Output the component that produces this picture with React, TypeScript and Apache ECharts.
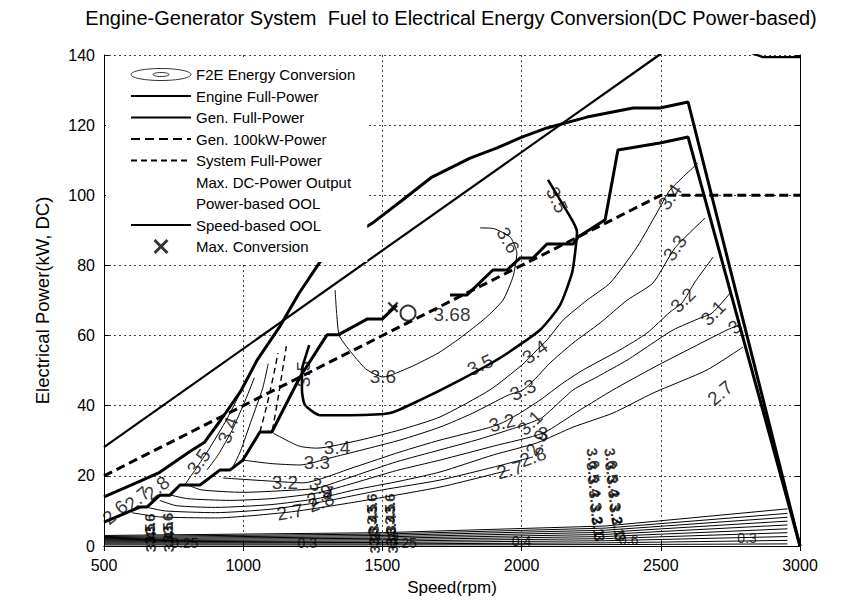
import React, { useEffect, useRef } from "react";
import * as echarts from "echarts";

const FONT = '"Liberation Sans", Arial, Helvetica, sans-serif';

const TITLE = "Engine-Generator System  Fuel to Electrical Energy Conversion(DC Power-based)";
const X_NAME = "Speed(rpm)";
const Y_NAME = "Electrical Power(kW, DC)";

// ---- boundary curves (rpm, kW) ----
const engineFullPower = [
  [500, 14], [630, 18.5], [700, 21], [810, 27], [860, 29.5], [920, 36], [990, 44], [1050, 53],
  [1130, 62.4], [1200, 72], [1276, 81], [1350, 86.5], [1463, 92], [1570, 98.5], [1678, 105.2],
  [1815, 110.6], [1912, 113.5], [2001, 116.6], [2091, 119.2], [2235, 122.3], [2400, 124.9],
  [2497, 124.9], [2598, 126.6], [3000, 0],
];
const genFullPower = [[500, 28.2], [2494, 140], [2600, 147], [2867, 139.4], [3000, 139.4]];
const gen100kW = [[500, 20], [2500, 100], [3000, 100]];
const systemFullPowerA = [[1060, 32.5], [1085, 40], [1110, 49], [1125, 55]];
const systemFullPowerB = [[1105, 33], [1125, 42], [1145, 52], [1155, 57]];
const speedOolA = [
  [500, 6.8], [629, 11.1], [654, 11.1], [701, 14.5], [737, 14.5], [773, 17.4], [845, 17.4],
  [917, 21.7], [953, 21.7], [999, 24.5], [1060, 32.5], [1103, 32.5], [1204, 48.2], [1301, 60.2],
  [1341, 60.2], [1445, 64.7], [1499, 64.7], [1552, 68.7],
];
const speedOolB = [
  [1743, 71.6], [1804, 71.6], [1897, 78.7], [1948, 78.7], [1994, 82.1], [2041, 82.1],
  [2091, 86.1], [2185, 86.1], [2203, 88.1], [2300, 93], [2346, 112.9], [2497, 114.9],
  [2598, 116.6], [3000, 0],
];
const maxConversion = [[1538, 68.1]];
const peakContour = [[1592, 66.4]];

// ---- efficiency contours ----
const c35 = [
  [2095, 104.4], [2138, 98.7], [2185, 92.4], [2199, 89.5], [2192, 83.5], [2181, 77.8], [2138, 68.7],
  [2066, 61.6], [1922, 53.6], [1779, 47.3], [1635, 41.6], [1527, 37.9], [1384, 37.3], [1276, 37.3],
  [1222, 40.2], [1211, 44.5], [1211, 50.2], [1226, 54.5], [1237, 57.3],
];
const c36 = [
  [1330, 73], [1336, 66], [1345, 60], [1380, 56], [1440, 50.5], [1502, 48.2], [1600, 51], [1700, 55],
  [1779, 59.3], [1870, 65], [1933, 70.1], [1970, 77], [1983, 83.5], [1960, 88], [1900, 90.5], [1851, 90.7],
];
const c34 = [
  [1107, 32.2], [1200, 28.5], [1265, 27.9], [1420, 30.2], [1563, 33.1], [1707, 36.8], [1886, 44.5],
  [2001, 51.6], [2048, 55.3], [2091, 58.7], [2149, 64.4], [2235, 70.1], [2318, 75], [2415, 85.3],
  [2486, 95], [2533, 101.5], [2634, 109.2],
];
const c33 = [
  [999, 24.5], [1100, 23.5], [1204, 23.1], [1312, 25.1], [1563, 30.2], [1707, 33.9], [1825, 37.9],
  [1951, 43], [2005, 44.5], [2055, 48.2], [2102, 52.2], [2185, 57.9], [2282, 63.6], [2379, 70.1],
  [2472, 75], [2551, 85], [2659, 93.5],
];
const c32 = [
  [927, 19.4], [1000, 19], [1100, 18.5], [1215, 18], [1400, 22.5], [1563, 26.8], [1707, 30.2],
  [1876, 33.6], [1930, 35.1], [1994, 37.9], [2066, 41.6], [2149, 46.5], [2221, 50.2], [2353, 55.9],
  [2450, 60.7], [2533, 66.7], [2576, 69.3], [2623, 75.3], [2688, 82.4],
];
const c31 = [
  [800, 17.4], [850, 16], [1000, 15.3], [1150, 15.8], [1265, 16.5], [1400, 20], [1550, 24],
  [1707, 27.4], [1850, 30.5], [1950, 33], [2030, 35.1], [2077, 36.8], [2185, 44.5], [2271, 48.2],
  [2379, 53], [2472, 57.9], [2544, 61.6], [2641, 65], [2684, 66.4], [2749, 72.1],
];
const c30 = [
  [740, 14.5], [800, 13.5], [950, 13], [1100, 13.5], [1265, 15.1], [1400, 18], [1550, 21.5],
  [1707, 24.5], [1900, 28.5], [2077, 32.2], [2210, 38.8], [2328, 44.5], [2472, 50.8], [2616, 56.7],
  [2738, 61.6], [2780, 63],
];
const c29 = [
  [700, 13], [760, 11.5], [900, 11], [1100, 11.8], [1265, 13.5], [1400, 16], [1563, 18.5],
  [1707, 21.1], [1900, 26], [2055, 29.4], [2185, 33.9], [2328, 37.9], [2472, 43.6], [2666, 50.2],
  [2795, 56.7],
];
const c28 = [
  [650, 11.1], [720, 10], [900, 9.5], [1100, 10.5], [1276, 12.5], [1500, 16], [1707, 18.8],
  [1900, 22.5], [2041, 25.4],
];
const c27 = [[600, 9.5], [700, 8.3], [900, 8], [1168, 9.7], [1400, 12.5], [1707, 16.8], [1958, 21.7]];
const leftA = [[790, 17.4], [830, 22], [880, 28], [940, 36], [985, 43]];
const leftB = [[870, 21.7], [910, 26], [960, 33], [1010, 42], [1040, 48]];
const leftC = [[960, 22], [990, 27], [1030, 36], [1070, 45], [1090, 52]];

// low-power contour fan near the speed axis
const fan1 = [[500, 0.3], [1500, 0.3], [2300, 0.4], [2955, 0.6]];
const fan2 = [[500, 0.6], [1500, 0.6], [2300, 0.9], [2955, 1.6]];
const fan3 = [[500, 0.9], [1500, 1.0], [2300, 1.5], [2955, 2.7]];
const fan4 = [[500, 1.2], [1500, 1.4], [2300, 2.1], [2955, 3.8]];
const fan5 = [[500, 1.5], [1500, 1.8], [2300, 2.7], [2955, 4.9]];
const fan6 = [[500, 1.8], [1500, 2.2], [2300, 3.3], [2955, 6.0]];
const fan7 = [[500, 2.1], [1500, 2.6], [2300, 3.9], [2955, 7.1]];
const fan8 = [[500, 2.4], [1500, 3.0], [2300, 4.5], [2955, 8.2]];
const fan9 = [[500, 2.7], [1500, 3.4], [2300, 5.1], [2955, 9.3]];
const fan10 = [[500, 3.0], [1500, 3.8], [2300, 5.7], [2955, 10.6]];

// contour labels: [rpm, kW, text, rotation]
const contourLabels: [number, number, string, number][] = [
  [1337, 28.2, "3.4", 0], [2048, 55.3, "3.4", 35], [2533, 99.5, "3.4", 55],
  [1265, 23.7, "3.3", 0], [2005, 44.5, "3.3", 25], [2551, 85, "3.3", 55],
  [1150, 18.2, "3.2", 0], [1930, 35.1, "3.2", 15], [2580, 70.1, "3.2", 45],
  [1285, 16.5, "3.1", -30], [2030, 35.1, "3.1", 45], [2688, 66.4, "3.1", 45],
  [2077, 32.2, "3", 0], [2765, 62.4, "3", 40],
  [1275, 14.5, "2.9", 30], [2055, 29.4, "2.9", 60],
  [1280, 12.5, "2.8", 20], [2041, 25.4, "2.8", 20],
  [1168, 9.7, "2.7", 10], [1958, 21.7, "2.7", 15], [2713, 43.6, "2.7", 40],
  [1851, 51.6, "3.5", 25], [2127, 98.7, "3.5", -65], [1215, 49, "3.5", 90],
  [1502, 48.2, "3.6", 0], [1951, 87.2, "3.6", -60],
  [540, 9.6, "2.6", 40], [620, 13.5, "2.7", 40], [690, 16.5, "2.8", 40],
  [840, 24, "3.5", 55], [945, 33, "3.4", 70],
];
const peakLabel: [number, number, string, number][] = [[1750, 65.9, "3.68", 0]];
const clusterLabels: [number, number, string, number][] = [
  [665, 6.3, "3.6", 90], [665, 3.5, "3.5", 90], [668, 1.2, "3.4", 90],
  [727, 6.5, "3.6", 90], [727, 3.8, "3.5", 90], [730, 1.2, "3.4", 90],
  [1462, 12, "3.6", 90], [1462, 9, "3.5", 90], [1465, 6, "3.4", 90], [1468, 3, "3.3", 90], [1470, 0.8, "3.2", 90],
  [1525, 12, "3.6", 90], [1525, 9, "3.5", 90], [1528, 6, "3.4", 90], [1530, 3, "3.3", 90], [1535, 0.8, "3.2", 90],
  [2258, 25, "3.6", -80], [2258, 21, "3.5", -80], [2262, 17, "3.4", -80], [2266, 13, "3.3", -80],
  [2270, 9, "3.2", -80], [2275, 5.5, "3.1", -80], [2280, 2.5, "3", -80],
  [2322, 25, "3.6", -80], [2325, 21, "3.5", -80], [2330, 17, "3.4", -80], [2335, 13, "3.3", -80],
  [2340, 9, "3.2", -80], [2348, 5.5, "3.1", -80], [2355, 2.5, "3", -80],
];
const bottomLabels: [number, number, string, number][] = [
  [790, 0.9, "0.25", 0], [1230, 0.9, "0.3", 0], [1575, 0.9, "0.25", 0],
  [2000, 1.3, "0.4", 0], [2385, 1.6, "0.6", 0], [2810, 2.2, "0.3", 0],
];

const LEGEND_NAMES = [
  "F2E Energy Conversion", "Engine Full-Power", "Gen. Full-Power", "Gen. 100kW-Power",
  "System Full-Power", "Max. DC-Power Output", "Power-based OOL", "Speed-based OOL", "Max. Conversion",
];

const ELLIPSE_ICON =
  "path://M0,6 C0,2.7 13.4,0 30,0 C46.6,0 60,2.7 60,6 C60,9.3 46.6,12 30,12 C13.4,12 0,9.3 0,6 Z " +
  "M22,6 C22,4.9 25.6,4 30,4 C34.4,4 38,4.9 38,6 C38,7.1 34.4,8 30,8 C25.6,8 22,7.1 22,6 Z";
const X_ICON =
  "path://M0,1.4 L1.4,0 L5,3.6 L8.6,0 L10,1.4 L6.4,5 L10,8.6 L8.6,10 L5,6.4 L1.4,10 L0,8.6 L3.6,5 Z";

function lineSeries(name: string, data: number[][], width: number, type: any = "solid", smooth: number | boolean = false, color = "#000") {
  return {
    type: "line",
    name,
    data,
    symbol: "none",
    showSymbol: false,
    smooth,
    silent: true,
    itemStyle: { color: "rgba(0,0,0,0)" },
    lineStyle: { width, color, type },
    z: 2,
  };
}

function labelSeries(name: string, items: [number, number, string, number][], fontSize: number, bold = false) {
  return {
    type: "scatter",
    name,
    symbolSize: 1,
    silent: true,
    itemStyle: { color: "rgba(0,0,0,0)" },
    z: 3,
    label: {
      show: true,
      position: "inside",
      formatter: "{b}",
      fontSize,
      fontFamily: FONT,
      fontWeight: bold ? "bold" : "normal",
      color: "#000",
    },
    data: items.map(([x, y, t, r]) => ({ value: [x, y], name: t, label: { rotate: r } })),
  };
}

function buildOption() {
  const axisCommon = {
    axisLine: { show: true, lineStyle: { color: "#000", width: 1 } },
    axisTick: { show: true, inside: true, length: 5, lineStyle: { color: "#000" } },
  };
  const plain = (v: number) => String(v);
  const contours = [c36, c34, c33, c32, c31, c30, c29, c28, c27, leftA, leftB, leftC];
  const fans = [fan1, fan2, fan3, fan4, fan5, fan6, fan7, fan8, fan9, fan10];
  return {
    animation: false,
    backgroundColor: "#fff",
    textStyle: { fontFamily: FONT },
    graphic: [
      {
        type: "text",
        x: 451,
        y: 18,
        style: {
          text: TITLE,
          textAlign: "center",
          textVerticalAlign: "middle",
          fontSize: 20,
          fontFamily: FONT,
          fill: "#000",
        },
      },
    ],
    grid: { left: 104, right: 43, top: 55, bottom: 56, show: false },
    legend: {
      orient: "vertical",
      left: 106,
      top: 57,
      padding: [10, 12, 8, 24],
      itemGap: 6.5,
      itemWidth: 60,
      itemHeight: 15,
      selectedMode: false,
      backgroundColor: "#fff",
      textStyle: { fontSize: 15, color: "#000", fontFamily: FONT, lineHeight: 15 },
      data: LEGEND_NAMES.map((n) => {
        if (n === "F2E Energy Conversion")
          return { name: n, icon: ELLIPSE_ICON, itemStyle: { color: "rgba(0,0,0,0)", borderColor: "#000", borderWidth: 1 } };
        return { name: n };
      }),
    },
    xAxis: [
      {
        type: "value",
        min: 500,
        max: 3000,
        interval: 500,
        position: "bottom",
        name: X_NAME,
        nameLocation: "middle",
        nameGap: 33,
        nameTextStyle: { fontSize: 17, color: "#000", fontFamily: FONT },
        ...axisCommon,
        axisLabel: { fontSize: 16, color: "#000", fontFamily: FONT, margin: 11, formatter: plain },
        splitLine: { show: true, lineStyle: { color: "#444", type: [2, 3], width: 1 } },
      },
      {
        type: "value",
        min: 500,
        max: 3000,
        interval: 500,
        position: "top",
        ...axisCommon,
        axisLabel: { show: false },
        splitLine: { show: false },
      },
    ],
    yAxis: [
      {
        type: "value",
        min: 0,
        max: 140,
        interval: 20,
        position: "left",
        name: Y_NAME,
        nameLocation: "middle",
        nameGap: 52,
        nameRotate: 90,
        nameTextStyle: { fontSize: 18.5, color: "#000", fontFamily: FONT },
        ...axisCommon,
        axisLabel: { fontSize: 16, color: "#000", fontFamily: FONT, margin: 9, formatter: plain },
        splitLine: { show: true, lineStyle: { color: "#444", type: [2, 3], width: 1 } },
      },
      {
        type: "value",
        min: 0,
        max: 140,
        interval: 20,
        position: "right",
        ...axisCommon,
        axisLabel: { show: false },
        splitLine: { show: false },
      },
    ],
    series: [
      ...fans.map((d, i) => lineSeries("fan" + i, d, 1)),
      ...contours.map((d, i) => lineSeries("contour" + i, d, 1, "solid", 0.2)),
      lineSeries("contour3.5", c35, 2.6, "solid", 0.2),
      lineSeries("Engine Full-Power", engineFullPower, 3),
      lineSeries("Gen. Full-Power", genFullPower, 2.2),
      lineSeries("Gen. 100kW-Power", gen100kW, 3, [9, 5]),
      lineSeries("System Full-Power", systemFullPowerA, 1.4, [6, 4]),
      lineSeries("System Full-Power", systemFullPowerB, 1.4, [6, 4]),
      lineSeries("Max. DC-Power Output", [], 1, "solid", false, "rgba(0,0,0,0)"),
      lineSeries("Power-based OOL", [], 1, "solid", false, "rgba(0,0,0,0)"),
      lineSeries("Speed-based OOL", speedOolA, 3),
      lineSeries("Speed-based OOL", speedOolB, 3),
      {
        type: "scatter",
        name: "F2E Energy Conversion",
        data: peakContour,
        symbol: "emptyCircle",
        symbolSize: 15,
        silent: true,
        itemStyle: { color: "#000", borderColor: "#000", borderWidth: 1.5 },
        z: 4,
      },
      {
        type: "scatter",
        name: "Max. Conversion",
        data: maxConversion,
        symbol: X_ICON,
        symbolSize: 11,
        silent: true,
        itemStyle: { color: "#000" },
        z: 4,
      },
      labelSeries("labels", contourLabels, 19),
      labelSeries("peakLabel", peakLabel, 19),
      labelSeries("cluster", clusterLabels, 15, true),
      labelSeries("bottomLabels", bottomLabels, 14),
    ],
  };
}

export default function App() {
  const ref = useRef<HTMLDivElement>(null);
  useEffect(() => {
    if (!ref.current) return;
    const chart = echarts.init(ref.current, null, { renderer: "svg" });
    chart.setOption(buildOption() as any);
    return () => chart.dispose();
  }, []);
  return (
    <div
      ref={ref}
      style={{ position: "fixed", left: 0, top: 0, width: 843, height: 602, background: "#fff" }}
    />
  );
}
